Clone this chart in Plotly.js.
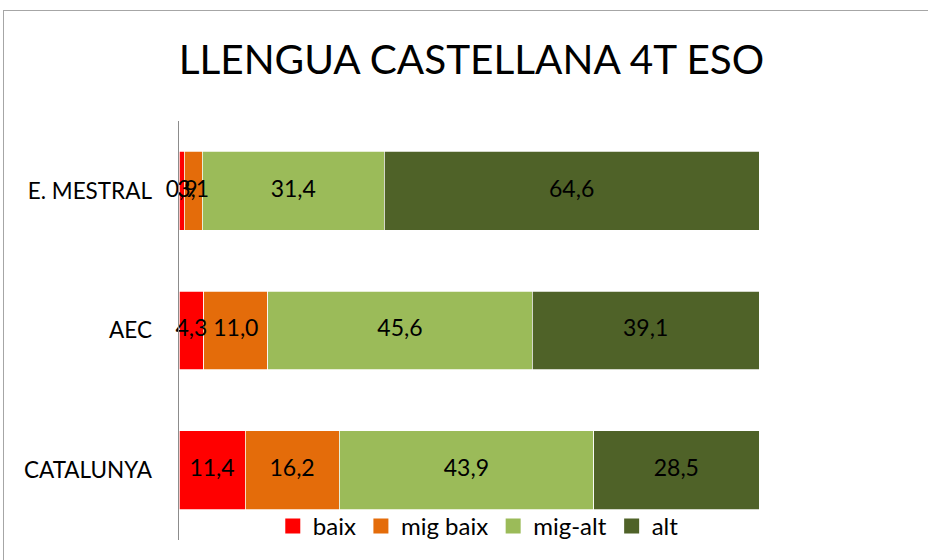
<!DOCTYPE html>
<html>
<head>
<meta charset="utf-8">
<script src="https://cdn.plot.ly/plotly-3.0.1.min.js"></script>
<style>
html,body{margin:0;padding:0;background:#fff;}
#frame{position:absolute;left:3px;top:10px;width:940px;height:560px;border:1px solid #a6a6a6;box-sizing:border-box;}
#chart{position:absolute;left:0;top:0;width:928px;height:560px;}
</style>
</head>
<body>
<div id="frame"></div>
<div id="chart"></div>
<script>
var categories = ["E. MESTRAL", "AEC", "CATALUNYA"];
var seriesNames = ["baix", "mig baix", "mig-alt", "alt"];
var baix = [0.9, 4.3, 11.4];
var migBaix = [3.1, 11.0, 16.2];
var migAlt = [31.4, 45.6, 43.9];
var alt = [64.6, 39.1, 28.5];
var colors = ["#FF0000", "#E46C0A", "#9BBB59", "#4F6228"];
var values = [baix, migBaix, migAlt, alt];

function fmt(v){ return v.toFixed(1).replace(".", ","); }

var traces = [];
// stacked bars (no legend; legend entries below)
values.forEach(function(vals, i){
  traces.push({
    type: "bar",
    orientation: "h",
    name: seriesNames[i],
    y: categories,
    x: vals,
    showlegend: false,
    marker: {color: colors[i], line: {color: "#ffffff", width: 0.75}},
    hoverinfo: "skip"
  });
});
// data labels drawn above all bars, at each segment's centre
var cum = categories.map(function(){ return 0; });
values.forEach(function(vals, i){
  var mids = vals.map(function(v, j){ var m = cum[j] + v / 2; cum[j] += v; return m; });
  traces.push({
    type: "scatter",
    mode: "text",
    x: mids,
    y: categories,
    text: vals.map(fmt),
    textposition: "middle center",
    textfont: {family: "Lato, sans-serif", size: 23, color: "#000"},
    showlegend: false,
    hoverinfo: "skip",
    cliponaxis: false
  });
});
// legend entries
seriesNames.forEach(function(n, i){
  traces.push({
    type: "scatter",
    mode: "markers",
    name: n,
    x: [null], y: [null],
    marker: {symbol: "square", size: 15, color: colors[i]},
    showlegend: true,
    hoverinfo: "skip"
  });
});

var layout = {
  width: 928, height: 560,
  paper_bgcolor: "rgba(0,0,0,0)",
  plot_bgcolor: "rgba(0,0,0,0)",
  barmode: "stack",
  bargap: 0.436,
  margin: {l: 179, r: 169, t: 121, b: 19},
  font: {family: "Lato, sans-serif", color: "#000"},
  title: {
    text: "LLENGUA CASTELLANA 4T ESO",
    font: {family: "Lato, sans-serif", size: 40.5, color: "#000"},
    xref: "container", x: 0.508, xanchor: "center",
    yref: "container", y: 0.893, yanchor: "middle"
  },
  xaxis: {range: [0, 100], visible: false, fixedrange: true},
  yaxis: {
    type: "category",
    autorange: "reversed",
    showline: true, linecolor: "#8c8c8c", linewidth: 1.5,
    showgrid: false, zeroline: false, ticks: "",
    ticklabelstandoff: 21,
    tickfont: {family: "Lato, sans-serif", size: 22.5, color: "#000"},
    fixedrange: true
  },
  showlegend: true,
  legend: {
    orientation: "h",
    xref: "paper", x: 0.516, xanchor: "center",
    yref: "paper", y: 0.035, yanchor: "middle",
    font: {family: "Lato, sans-serif", size: 24, color: "#000"},
    bgcolor: "rgba(255,255,255,0)",
    traceorder: "normal",
    itemwidth: 30
  }
};

Plotly.newPlot("chart", traces, layout, {staticPlot: true, displayModeBar: false});
</script>
</body>
</html>
